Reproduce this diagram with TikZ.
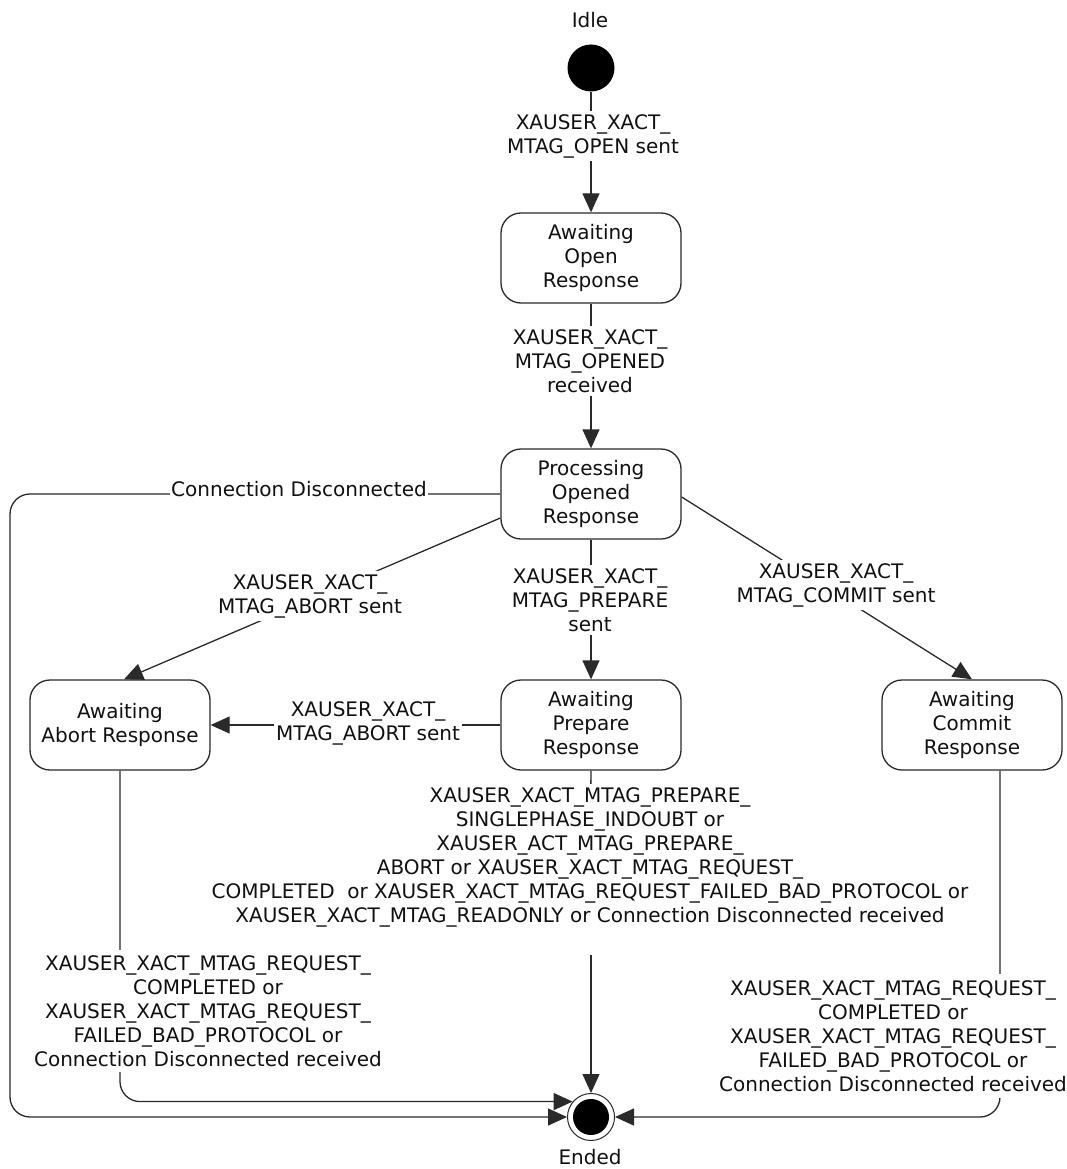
\documentclass[tikz,border=0pt]{standalone}
\usepackage{fontspec}
\setmainfont{DejaVu Sans}
\usetikzlibrary{arrows.meta}
\pgfdeclarelayer{bg}
\pgfsetlayers{bg,main}
\definecolor{ln}{HTML}{2A2A2A}
\definecolor{txt}{HTML}{111111}
\begin{document}
\begin{tikzpicture}[x=1pt,y=-1pt,
  every node/.style={font=\fontsize{20}{24}\selectfont, text=txt},
  state/.style={draw=ln, line width=1.3pt, rounded corners=20pt, minimum width=180pt, minimum height=90pt, align=center, inner sep=0pt},
  lbl/.style={fill=white, align=center, inner xsep=2pt, inner ysep=3pt},
  conn/.style={draw=ln, line width=1.3pt, -{Triangle[length=19pt,width=17pt]}},
  plain/.style={draw=ln, line width=1.3pt}]
\useasboundingbox (0,0) rectangle (1067,1169);
% states
\node (idle) at (590,20) {Idle};
\node[circle, fill=black, minimum size=47pt, inner sep=0pt] (start) at (591,68) {};
\node[state] (aor) at (591,258) {Awaiting\\Open\\Response};
\node[state] (por) at (591,494) {Processing\\Opened\\Response};
\node[state] (aar) at (120,725) {Awaiting\\Abort Response};
\node[state] (apr) at (591,725) {Awaiting\\Prepare\\Response};
\node[state] (acr) at (972,725) {Awaiting\\Commit\\Response};
\node[circle, draw=ln, line width=1pt, minimum size=47pt, inner sep=0pt] (end) at (591,1117) {};
\node[circle, fill=black, minimum size=36pt, inner sep=0pt] (endin) at (591,1117) {};
\node (ended) at (590,1157) {Ended};
% labels
\node[lbl] (l1) at (593,136) {XAUSER\_XACT\_\\MTAG\_OPEN sent};
\node[lbl] (l2) at (590,361) {XAUSER\_XACT\_\\MTAG\_OPENED\\received};
\node[lbl, inner sep=1pt] (l3) at (299,489) {Connection Disconnected};
\node[lbl] (l4) at (310,596) {XAUSER\_XACT\_\\MTAG\_ABORT sent};
\node[lbl] (l5) at (590,600) {XAUSER\_XACT\_\\MTAG\_PREPARE\\sent};
\node[lbl] (l6) at (836,585) {XAUSER\_XACT\_\\MTAG\_COMMIT sent};
\node[lbl] (l7) at (368,723) {XAUSER\_XACT\_\\MTAG\_ABORT sent};
\node[lbl] (l8) at (590,857) {XAUSER\_XACT\_MTAG\_PREPARE\_\\SINGLEPHASE\_INDOUBT or\\XAUSER\_ACT\_MTAG\_PREPARE\_\\ABORT or XAUSER\_XACT\_MTAG\_REQUEST\_\\COMPLETED\ \ or XAUSER\_XACT\_MTAG\_REQUEST\_FAILED\_BAD\_PROTOCOL or\\XAUSER\_XACT\_MTAG\_READONLY or Connection Disconnected received};
\node[lbl, inner ysep=5pt] (l9) at (208,1011) {XAUSER\_XACT\_MTAG\_REQUEST\_\\COMPLETED or\\XAUSER\_XACT\_MTAG\_REQUEST\_\\FAILED\_BAD\_PROTOCOL or\\Connection Disconnected received};
\node[lbl, inner ysep=6pt] (l10) at (893,1036) {XAUSER\_XACT\_MTAG\_REQUEST\_\\COMPLETED or\\XAUSER\_XACT\_MTAG\_REQUEST\_\\FAILED\_BAD\_PROTOCOL or\\Connection Disconnected received};
\coordinate (cdc) at (10,494);
\coordinate (pe) at (591,955);
% connectors
\begin{pgfonlayer}{bg}
\draw[conn] (start) -- (aor);
\draw[conn] (aor) -- (por);
\draw[conn, rounded corners=20pt] (por.west) -- (cdc) |- (end.west);
\draw[conn] ([yshift=-24pt]por.west) -- ([xshift=4pt]aar.north);
\draw[conn] (por.south) -- (apr.north);
\draw[conn] ([yshift=-3pt]por.east) -- (acr.north);
\draw[conn] (apr.west) -- (aar.east);
\draw[plain] (apr.south) -- (l8.center);
\draw[conn] (pe) -- (end.north);
\draw[conn, rounded corners=20pt] (aar.south) |- (end.140);
\draw[conn, rounded corners=20pt] ([xshift=28pt]acr.south) |- (end.east);
\end{pgfonlayer}
\end{tikzpicture}
\end{document}
